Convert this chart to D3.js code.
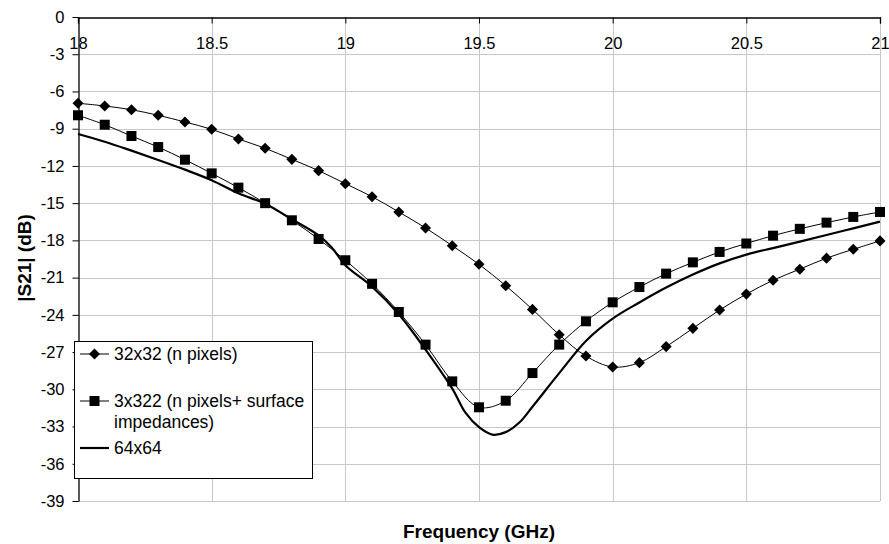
<!DOCTYPE html>
<html>
<head>
<meta charset="utf-8">
<script src="https://cdn.jsdelivr.net/npm/d3@7"></script>
<style>
  html, body { margin: 0; padding: 0; background: #fff; }
  body { width: 889px; height: 544px; overflow: hidden; }
  text { font-family: "Liberation Sans", Arial, sans-serif; }
</style>
</head>
<body>
<div id="root"><svg></svg></div>
<script>
const width = 889, height = 544;
const margin = {left: 78, right: 9, top: 17, bottom: 43};

// frequency points (GHz) of the two marker series
const freq = [18.0, 18.1, 18.2, 18.3, 18.4, 18.5, 18.6, 18.7, 18.8, 18.9,
              19.0, 19.1, 19.2, 19.3, 19.4, 19.5, 19.6, 19.7, 19.8, 19.9,
              20.0, 20.1, 20.2, 20.3, 20.4, 20.5, 20.6, 20.7, 20.8, 20.9, 21.0];

// |S21| in dB, 32x32 (n pixels)
const s32 = [-6.95, -7.17, -7.47, -7.92, -8.46, -9.05, -9.83, -10.58, -11.47, -12.38,
             -13.43, -14.48, -15.71, -17.0, -18.43, -19.93, -21.65, -23.56, -25.6, -27.32,
             -28.2, -27.85, -26.56, -25.09, -23.61, -22.33, -21.21, -20.32, -19.43, -18.72, -18.04];

// 3x322 (n pixels+ surface impedances)
const s322 = [-7.92, -8.68, -9.59, -10.48, -11.5, -12.6, -13.75, -15.0, -16.38, -17.89,
              -19.6, -21.5, -23.77, -26.4, -29.36, -31.45, -30.92, -28.69, -26.4, -24.52,
              -22.99, -21.76, -20.68, -19.77, -18.93, -18.25, -17.62, -17.07, -16.57, -16.11, -15.71];

// 64x64 reference curve (no markers)
const f64 = [18.0, 18.1, 18.2, 18.3, 18.4, 18.5, 18.6, 18.7, 18.8, 18.9, 18.95,
             19.0, 19.1, 19.2, 19.3, 19.4, 19.45, 19.5, 19.55, 19.6, 19.65, 19.7,
             19.8, 19.9, 20.0, 20.1, 20.2, 20.3, 20.4, 20.5, 20.6, 20.7, 20.8, 20.9, 21.0];
const s64 = [-9.43, -10.05, -10.77, -11.52, -12.3, -13.15, -14.2, -15.05, -16.3, -17.6, -18.6,
             -20.0, -21.73, -23.95, -26.8, -29.95, -31.9, -33.05, -33.65, -33.45, -32.7, -31.4,
             -28.7, -26.1, -24.3, -23.0, -21.8, -20.75, -19.85, -19.15, -18.62, -18.1, -17.57, -17.03, -16.49];

const xTicks = [18, 18.5, 19, 19.5, 20, 20.5, 21];
const yTicks = [0, -3, -6, -9, -12, -15, -18, -21, -24, -27, -30, -33, -36, -39];

const legendItems = [
    {lines: ['32x32 (n pixels)'], marker: 'diamond', thick: false},
    {lines: ['3x322 (n pixels+ surface', 'impedances)'], marker: 'square', thick: false},
    {lines: ['64x64'], marker: null, thick: true}
];

const svg = d3.select('#root').select('svg')
    .attr('width', width)
    .attr('height', height);

const x = d3.scaleLinear().domain([18, 21]).range([margin.left, width - margin.right]);
const y = d3.scaleLinear().domain([0, -39]).range([margin.top, height - margin.bottom]);

// plain hyphen, as in the original
const fmt = d => String(d);

// gridlines
const grid = svg.append('g').attr('stroke', '#c8c8c8').attr('stroke-width', 1);
grid.selectAll('line.h')
    .data(yTicks.filter(d => d !== 0))
    .enter().append('line')
    .attr('x1', x(18)).attr('x2', x(21))
    .attr('y1', d => Math.round(y(d)) + 0.5).attr('y2', d => Math.round(y(d)) + 0.5);
grid.selectAll('line.v')
    .data(xTicks.filter(d => d !== 18))
    .enter().append('line')
    .attr('y1', y(0)).attr('y2', y(-39))
    .attr('x1', d => Math.round(x(d)) + 0.5).attr('x2', d => Math.round(x(d)) + 0.5);

// x axis along the 0 dB line
const xAxis = svg.append('g')
    .attr('transform', `translate(0,${Math.round(y(0)) + 0.5})`)
    .call(d3.axisBottom(x).tickValues(xTicks).tickSize(6).tickPadding(14).tickFormat(fmt));
xAxis.select('.domain').attr('stroke', '#000').attr('stroke-width', 1.3);
xAxis.selectAll('.tick line').attr('stroke', '#000');
xAxis.selectAll('text').attr('font-size', 16.5).attr('fill', '#000')
    .attr('font-family', '"Liberation Sans", Arial, sans-serif');

// y axis
const yAxis = svg.append('g')
    .attr('transform', `translate(${Math.round(x(18)) + 0.5},0)`)
    .call(d3.axisLeft(y).tickValues(yTicks).tickSize(6).tickSizeOuter(0).tickPadding(8).tickFormat(fmt));
yAxis.select('.domain').attr('stroke', '#000').attr('stroke-width', 1.3);
yAxis.selectAll('.tick line').attr('stroke', '#000');
yAxis.selectAll('text').attr('font-size', 16.5).attr('fill', '#000')
    .attr('font-family', '"Liberation Sans", Arial, sans-serif');

// series
const line = d3.line()
    .x(d => x(d[0]))
    .y(d => y(d[1]))
    .curve(d3.curveCatmullRom.alpha(0.5));

const pts32 = freq.map((f, i) => [f, s32[i]]);
const pts322 = freq.map((f, i) => [f, s322[i]]);
const pts64 = f64.map((f, i) => [f, s64[i]]);

svg.append('path').datum(pts64)
    .attr('d', line).attr('fill', 'none').attr('stroke', '#000').attr('stroke-width', 2.2);
svg.append('path').datum(pts322)
    .attr('d', line).attr('fill', 'none').attr('stroke', '#000').attr('stroke-width', 1);
svg.append('path').datum(pts32)
    .attr('d', line).attr('fill', 'none').attr('stroke', '#000').attr('stroke-width', 1);

const diamond = d3.symbol().type(d3.symbolDiamond2).size(78);
const square = d3.symbol().type(d3.symbolSquare).size(100);

svg.append('g').selectAll('path')
    .data(pts322).enter().append('path')
    .attr('d', square)
    .attr('transform', d => `translate(${x(d[0])},${y(d[1])})`)
    .attr('fill', '#000');
svg.append('g').selectAll('path')
    .data(pts32).enter().append('path')
    .attr('d', diamond)
    .attr('transform', d => `translate(${x(d[0])},${y(d[1])})`)
    .attr('fill', '#000');

// legend
const legend = svg.append('g');
legend.append('rect')
    .attr('x', 74.5).attr('y', 341.5)
    .attr('width', 238).attr('height', 137)
    .attr('fill', '#fff').attr('stroke', '#000').attr('stroke-width', 1);

const rowY = [354, 401, 448];
legendItems.forEach((item, i) => {
    const g = legend.append('g').attr('transform', `translate(0,${rowY[i]})`);
    g.append('line')
        .attr('x1', 80).attr('x2', 109).attr('y1', 0).attr('y2', 0)
        .attr('stroke', '#000').attr('stroke-width', item.thick ? 2.2 : 1);
    if (item.marker === 'diamond') {
        g.append('path').attr('d', diamond).attr('transform', 'translate(94.5,0)').attr('fill', '#000');
    } else if (item.marker === 'square') {
        g.append('path').attr('d', square).attr('transform', 'translate(94.5,0)').attr('fill', '#000');
    }
    const t = g.append('text')
        .attr('x', 114).attr('y', 6)
        .attr('font-size', 17.5).attr('fill', '#000');
    item.lines.forEach((s, j) => {
        t.append('tspan').attr('x', 114).attr('dy', j === 0 ? 0 : 20.7).text(s);
    });
});

// axis titles
svg.append('text')
    .attr('x', 479).attr('y', 538)
    .attr('text-anchor', 'middle')
    .attr('font-size', 19).attr('font-weight', 'bold')
    .text('Frequency (GHz)');

svg.append('text')
    .attr('transform', 'translate(31,258) rotate(-90)')
    .attr('text-anchor', 'middle')
    .attr('font-size', 19).attr('font-weight', 'bold')
    .text('|S21| (dB)');
</script>
</body>
</html>
